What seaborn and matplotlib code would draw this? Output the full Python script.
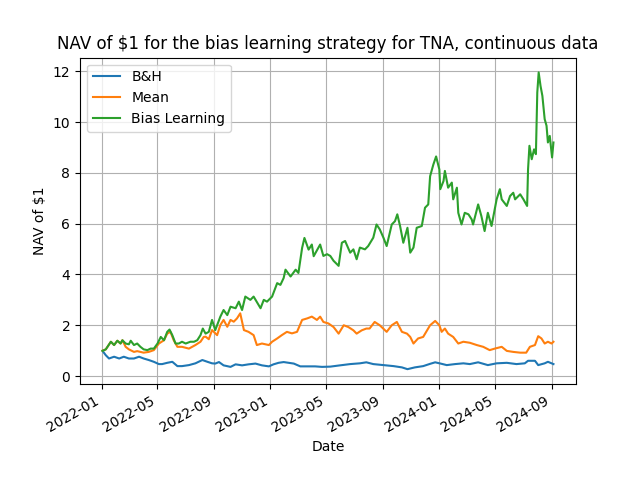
import pandas as pd
import matplotlib
matplotlib.use("Agg")
import matplotlib.pyplot as plt
import matplotlib.dates as mdates
import seaborn as sns

# values
bh_dates = ["2022-01-03", "2022-01-10", "2022-01-17", "2022-01-28", "2022-02-08", "2022-02-18",
            "2022-03-01", "2022-03-12", "2022-03-23", "2022-04-02", "2022-04-13", "2022-04-24",
            "2022-05-05", "2022-05-12", "2022-05-23", "2022-06-03", "2022-06-14", "2022-06-24",
            "2022-07-09", "2022-07-23", "2022-08-07", "2022-08-18", "2022-08-28", "2022-09-04",
            "2022-09-12", "2022-09-22", "2022-10-07", "2022-10-18", "2022-11-01", "2022-11-15",
            "2022-11-30", "2022-12-14", "2022-12-29", "2023-01-08", "2023-01-19", "2023-01-30",
            "2023-02-10", "2023-02-21", "2023-03-07", "2023-03-22", "2023-04-08", "2023-04-23",
            "2023-05-11", "2023-06-01", "2023-06-23", "2023-07-14", "2023-07-28", "2023-08-12",
            "2023-09-03", "2023-09-25", "2023-10-13", "2023-10-25", "2023-11-10", "2023-11-28",
            "2023-12-13", "2023-12-24", "2024-01-07", "2024-01-18", "2024-02-05", "2024-02-23",
            "2024-03-08", "2024-03-26", "2024-04-16", "2024-05-05", "2024-05-27", "2024-06-17",
            "2024-07-05", "2024-07-12", "2024-07-27", "2024-08-03", "2024-08-17", "2024-08-24",
            "2024-09-05"]
bh_nav = [0.99, 0.82, 0.69, 0.76, 0.69, 0.76,
          0.69, 0.69, 0.76, 0.69, 0.63, 0.56,
          0.47, 0.47, 0.52, 0.56, 0.39, 0.39,
          0.43, 0.50, 0.63, 0.56, 0.50, 0.49,
          0.55, 0.42, 0.36, 0.46, 0.42, 0.46,
          0.49, 0.42, 0.38, 0.46, 0.52, 0.55,
          0.52, 0.49, 0.38, 0.38, 0.38, 0.36,
          0.37, 0.42, 0.47, 0.50, 0.54, 0.47,
          0.43, 0.39, 0.34, 0.27, 0.34, 0.39,
          0.48, 0.54, 0.48, 0.43, 0.47, 0.50,
          0.47, 0.54, 0.43, 0.50, 0.52, 0.47,
          0.50, 0.60, 0.60, 0.43, 0.50, 0.56,
          0.47]

mean_dates = ["2022-01-03", "2022-01-10", "2022-01-21", "2022-01-28", "2022-02-04", "2022-02-11",
              "2022-02-15", "2022-02-22", "2022-03-01", "2022-03-12", "2022-03-19", "2022-03-26",
              "2022-04-02", "2022-04-13", "2022-04-24", "2022-05-05", "2022-05-16", "2022-05-23",
              "2022-05-30", "2022-06-06", "2022-06-14", "2022-06-24", "2022-07-09", "2022-07-23",
              "2022-08-03", "2022-08-10", "2022-08-14", "2022-08-21", "2022-08-28", "2022-09-08",
              "2022-09-15", "2022-09-22", "2022-09-30", "2022-10-07", "2022-10-14", "2022-10-21",
              "2022-10-28", "2022-11-01", "2022-11-05", "2022-11-15", "2022-11-26", "2022-12-03",
              "2022-12-14", "2022-12-29", "2023-01-05", "2023-01-16", "2023-01-26", "2023-02-06",
              "2023-02-17", "2023-02-28", "2023-03-11", "2023-03-22", "2023-04-01", "2023-04-12",
              "2023-04-19", "2023-04-26", "2023-05-07", "2023-05-18", "2023-05-29", "2023-06-09",
              "2023-06-19", "2023-06-30", "2023-07-07", "2023-07-18", "2023-07-28", "2023-08-04",
              "2023-08-15", "2023-08-26", "2023-09-10", "2023-09-21", "2023-10-02", "2023-10-13",
              "2023-10-24", "2023-10-31", "2023-11-07", "2023-11-17", "2023-11-28", "2023-12-13",
              "2023-12-24", "2024-01-02", "2024-01-07", "2024-01-14", "2024-01-21", "2024-02-01",
              "2024-02-12", "2024-02-23", "2024-03-08", "2024-03-23", "2024-04-06", "2024-04-20",
              "2024-05-01", "2024-05-16", "2024-05-27", "2024-06-10", "2024-06-25", "2024-07-08",
              "2024-07-16", "2024-07-27", "2024-08-03", "2024-08-10", "2024-08-17", "2024-08-24",
              "2024-09-01", "2024-09-05"]
mean_nav = [1.00, 1.05, 1.35, 1.22, 1.39, 1.28,
            1.41, 1.15, 1.05, 0.95, 0.98, 0.95,
            0.92, 0.95, 1.02, 1.28, 1.41, 1.67,
            1.74, 1.41, 1.15, 1.15, 1.08, 1.22,
            1.35, 1.54, 1.55, 1.45, 1.81, 1.61,
            2.01, 2.21, 1.94, 2.21, 2.14, 2.27,
            2.47, 2.14, 1.81, 1.74, 1.61, 1.22,
            1.28, 1.22, 1.35, 1.48, 1.61, 1.74,
            1.68, 1.74, 2.21, 2.27, 2.34, 2.21,
            2.34, 2.13, 2.07, 1.93, 1.67, 2.00,
            1.93, 1.80, 1.67, 1.80, 1.87, 1.87,
            2.13, 2.00, 1.74, 2.00, 2.13, 1.74,
            1.67, 1.54, 1.28, 1.48, 1.54, 2.00,
            2.17, 2.00, 1.74, 1.87, 1.67, 1.54,
            1.28, 1.35, 1.31, 1.22, 1.15, 1.02,
            1.08, 1.15, 0.99, 0.95, 0.92, 0.92,
            1.15, 1.22, 1.57, 1.48, 1.28, 1.35,
            1.28, 1.35]

bias_dates = ["2022-01-03", "2022-01-10", "2022-01-21", "2022-01-28", "2022-02-04", "2022-02-11",
              "2022-02-15", "2022-02-22", "2022-03-01", "2022-03-05", "2022-03-12", "2022-03-19",
              "2022-03-26", "2022-04-02", "2022-04-10", "2022-04-17", "2022-04-24", "2022-05-02",
              "2022-05-09", "2022-05-16", "2022-05-23", "2022-05-28", "2022-06-03", "2022-06-10",
              "2022-06-17", "2022-06-24", "2022-07-02", "2022-07-12", "2022-07-20", "2022-07-27",
              "2022-08-03", "2022-08-08", "2022-08-14", "2022-08-21", "2022-08-28", "2022-09-04",
              "2022-09-15", "2022-09-22", "2022-09-30", "2022-10-07", "2022-10-18", "2022-10-25",
              "2022-11-01", "2022-11-08", "2022-11-19", "2022-11-26", "2022-12-11", "2022-12-18",
              "2022-12-25", "2023-01-05", "2023-01-16", "2023-01-23", "2023-01-30", "2023-02-03",
              "2023-02-14", "2023-02-25", "2023-03-03", "2023-03-11", "2023-03-16", "2023-03-25",
              "2023-04-01", "2023-04-05", "2023-04-19", "2023-04-26", "2023-05-04", "2023-05-11",
              "2023-05-18", "2023-05-29", "2023-06-05", "2023-06-12", "2023-06-23", "2023-06-30",
              "2023-07-07", "2023-07-14", "2023-07-25", "2023-08-01", "2023-08-12", "2023-08-19",
              "2023-08-26", "2023-09-03", "2023-09-10", "2023-09-21", "2023-09-28", "2023-10-03",
              "2023-10-09", "2023-10-16", "2023-10-25", "2023-10-31", "2023-11-07", "2023-11-14",
              "2023-11-25", "2023-12-02", "2023-12-09", "2023-12-13", "2023-12-20", "2023-12-26",
              "2024-01-02", "2024-01-04", "2024-01-11", "2024-01-14", "2024-01-21", "2024-01-29",
              "2024-02-01", "2024-02-09", "2024-02-12", "2024-02-19", "2024-02-26", "2024-03-05",
              "2024-03-12", "2024-03-15", "2024-03-26", "2024-04-02", "2024-04-09", "2024-04-16",
              "2024-04-24", "2024-05-01", "2024-05-05", "2024-05-12", "2024-05-16", "2024-05-27",
              "2024-06-03", "2024-06-10", "2024-06-14", "2024-06-25", "2024-07-02", "2024-07-10",
              "2024-07-12", "2024-07-15", "2024-07-20", "2024-07-25", "2024-07-29", "2024-08-01",
              "2024-08-04", "2024-08-08", "2024-08-12", "2024-08-17", "2024-08-21", "2024-08-24",
              "2024-08-28", "2024-09-02", "2024-09-05"]
bias_nav = [0.99, 1.05, 1.35, 1.22, 1.39, 1.28,
            1.41, 1.28, 1.25, 1.39, 1.22, 1.28,
            1.15, 1.05, 1.02, 1.08, 1.08, 1.28,
            1.54, 1.41, 1.74, 1.83, 1.61, 1.28,
            1.28, 1.35, 1.28, 1.35, 1.35, 1.41,
            1.61, 1.87, 1.67, 1.74, 2.21, 1.81,
            2.34, 2.60, 2.40, 2.73, 2.67, 2.93,
            2.60, 3.13, 3.00, 3.13, 2.67, 3.00,
            2.93, 3.13, 3.66, 3.59, 3.86, 4.19,
            3.92, 4.19, 4.06, 5.05, 5.44, 4.98,
            5.18, 4.72, 5.18, 4.73, 4.80, 4.73,
            4.54, 4.34, 5.25, 5.32, 4.86, 4.99,
            4.60, 5.06, 4.99, 5.12, 5.45, 5.97,
            5.78, 5.45, 5.12, 5.97, 6.10, 6.37,
            5.91, 5.25, 5.84, 4.86, 5.06, 5.84,
            5.91, 6.63, 6.76, 7.87, 8.33, 8.65,
            8.14, 7.36, 7.68, 8.08, 7.42, 7.62,
            6.96, 7.42, 6.43, 5.97, 6.43, 6.37,
            6.17, 5.97, 6.76, 6.30, 5.71, 6.43,
            5.91, 6.57, 6.96, 7.36, 6.96, 6.70,
            7.09, 7.22, 6.96, 7.16, 6.96, 6.70,
            8.14, 9.07, 8.54, 8.93, 8.74, 11.17,
            11.96, 11.43, 11.04, 10.12, 9.86, 9.20,
            9.46, 8.61, 9.20]

fig, ax = plt.subplots(figsize=(6.4, 4.8), dpi=100)

sns.lineplot(x=pd.to_datetime(bh_dates), y=bh_nav, ax=ax, color="tab:blue", label="B&H")
sns.lineplot(x=pd.to_datetime(mean_dates), y=mean_nav, ax=ax, color="tab:orange", label="Mean")
sns.lineplot(x=pd.to_datetime(bias_dates), y=bias_nav, ax=ax, color="tab:green", label="Bias Learning")

ax.set_title("NAV of \\$1 for the bias learning strategy for TNA, continuous data")
ax.set_xlabel("Date")
ax.set_ylabel("NAV of \\$1")
ax.xaxis.set_major_locator(mdates.MonthLocator(bymonth=[1, 5, 9]))
ax.xaxis.set_major_formatter(mdates.DateFormatter("%Y-%m"))
ax.grid(True)
ax.legend(loc="upper left")
fig.autofmt_xdate()

plt.savefig("out.png")
